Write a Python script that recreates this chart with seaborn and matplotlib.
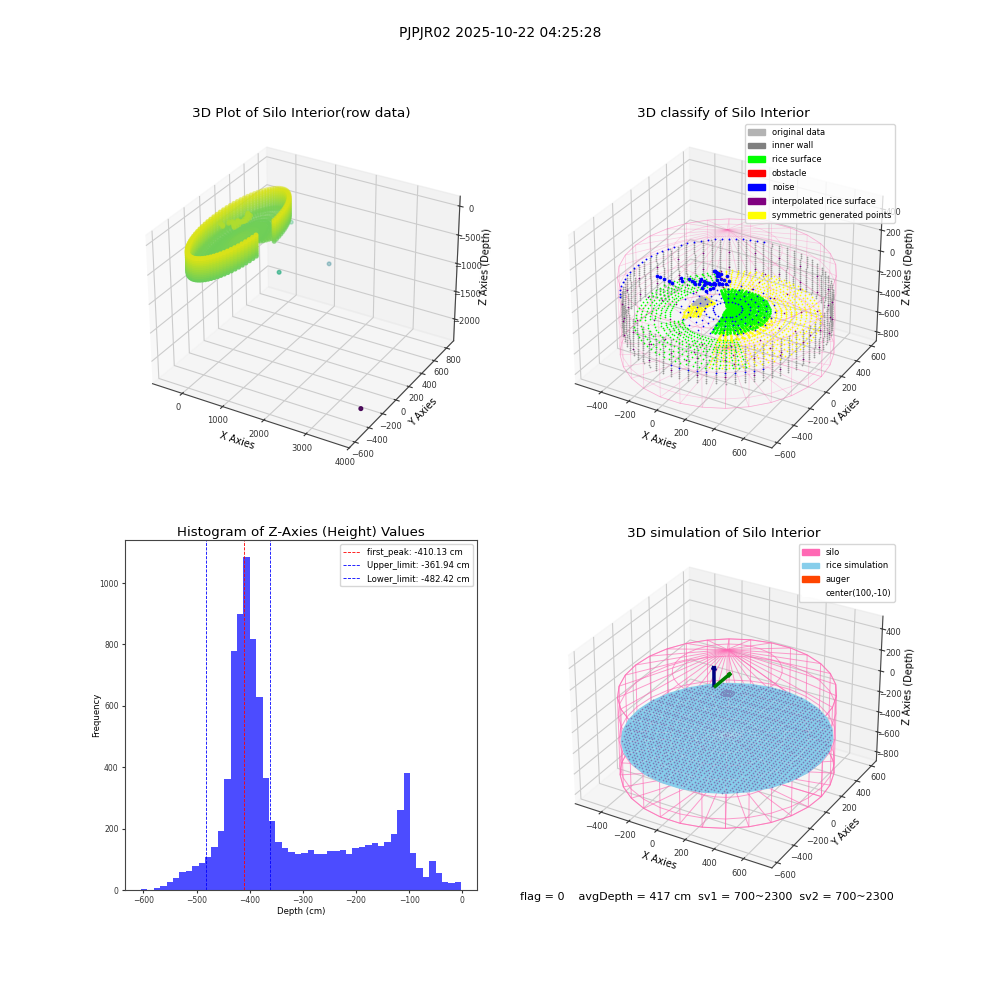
"""Silo interior report: raw cloud, classified points, depth histogram, simulation."""

import matplotlib
matplotlib.use("Agg")
import matplotlib.pyplot as plt
import matplotlib.patches as mpatches
import numpy as np
import seaborn as sns

plt.rcParams["grid.color"] = "#cccccc"
plt.rcParams["axes.edgecolor"] = "#444444"
plt.rcParams["xtick.color"] = "#333333"
plt.rcParams["ytick.color"] = "#333333"

# -----------------------------
# Values
# -----------------------------
SUPTITLE = "PJPJR02 2025-10-22 04:25:28"
STATUS_TEXT = "flag = 0    avgDepth = 417 cm  sv1 = 700~2300  sv2 = 700~2300"

# Histogram of depths
hist_edges = [-604.5, -592.5, -580.4, -568.4, -556.3, -544.3, -532.2, -520.2, -508.1, -496.1,
              -484.0, -472.0, -459.9, -447.9, -435.8, -423.8, -411.7, -399.7, -387.6, -375.6,
              -363.5, -351.5, -339.4, -327.4, -315.3, -303.3, -291.2, -279.2, -267.1, -255.1,
              -243.0, -231.0, -218.9, -206.9, -194.8, -182.8, -170.7, -158.7, -146.6, -134.6,
              -122.5, -110.5, -98.4, -86.4, -74.3, -62.3, -50.2, -38.2, -26.1, -14.1, -2.0]
hist_counts = [3, 0, 7, 13, 26, 39, 59, 62, 78, 88, 108, 140, 192, 362, 779, 900, 1086, 818, 629,
               365, 225, 157, 137, 124, 117, 121, 130, 117, 117, 127, 127, 130, 117, 137, 140,
               147, 153, 143, 157, 183, 261, 382, 121, 72, 42, 95, 55, 26, 23, 26]
first_peak = -410.13
upper_limit = -361.94
lower_limit = -482.42

# Silo geometry
silo_center = (100, -10)
raw_center = (193, 20)
silo_radius = 660
wire_angles = [0, 12, 24, 36, 48, 60, 72, 84, 96, 108, 120, 132, 144, 156, 168, 180, 192, 204, 216,
               228, 240, 252, 264, 276, 288, 300, 312, 324, 336, 348, 360]
wire_wall_z = [-740, -650, -400, -160, 10]
wire_roof_r = [660, 330, 0]
wire_roof_z = [10, 205, 400]
wire_floor_r = [660, 330, 0]

# Wall samples
wall_angles = [0, 5, 10, 15, 20, 25, 30, 35, 40, 45, 50, 55, 60, 65, 70, 75, 80, 85, 90, 95, 100,
               105, 110, 115, 120, 125, 130, 135, 140, 145, 150, 155, 160, 165, 170, 175, 180, 185,
               190, 195, 200, 205, 210, 215, 220, 225, 230, 235, 240, 245, 250, 255, 260, 265, 270,
               275, 280, 285, 290, 295, 300, 305, 310, 315, 320, 325, 330, 335, 340, 345, 350, 355]
wall_z = [-180, -200, -220, -240, -260, -280, -300, -320, -340, -360, -380, -400, -420, -440,
          -460, -480, -500, -520]
wall_radius = 640

# Raw cloud (first panel)
raw_angles = [14, 18, 22, 26, 30, 34, 38, 42, 46, 50, 54, 58, 62, 66, 70, 74, 78, 82, 86, 90,
              94, 98, 102, 106, 110, 114, 118, 122, 126, 130, 134, 138, 142, 146, 150, 154, 158,
              162, 166, 170, 174, 178, 182, 186, 190, 194, 198, 202, 206, 210, 214, 218, 222, 226,
              230, 234, 238, 242, 246, 250, 254, 258, 262, 266, 270, 274, 278, 282, 286, 290, 294,
              298, 302, 306, 310, 314, 318, 322, 326, 330, 334, 338, 342, 346, 350]
raw_wall_z = [-120, -150, -180, -210, -240, -270, -300, -330, -360, -390, -420, -450, -480]
raw_floor_r = [60, 110, 160, 210, 260, 310, 360, 410, 460, 510, 560]
raw_floor_z = [-420, -430, -440, -450, -455, -460, -465, -460, -450, -440, -430]
raw_out_x = [3800, 1140, 1386, 360]
raw_out_y = [-395, 25, 600, 643]
raw_out_z = [-2117, -800, -1200, -700]

# Classified patches, polar around the silo centre
green_back_angles = [130, 134, 138, 142, 146, 150, 154, 158, 162, 166, 170, 174, 178, 182, 186, 190,
                     194, 198, 202, 206, 210, 214]
green_back_r = [350, 380, 410, 440, 470, 500, 530, 560]
green_back_z = [-400, -405, -410, -415, -420, -425, -430, -435]
green_front_angles = [220, 224, 228, 232, 236, 240, 244, 248, 252, 256, 260, 264, 268, 272, 276,
                      280, 284, 288, 292, 296, 300, 304, 308, 312]
green_front_r = [280, 305, 330, 355, 380, 410, 450, 490, 530, 570]
green_front_z = [-420, -420, -425, -425, -430, -430, -435, -435, -440, -440]
yellow_back_angles = [30, 34, 38, 42, 46, 50, 54, 58, 62, 66, 70, 74, 78, 82, 86, 90, 94, 98, 102,
                      106, 110, 114, 118, 122, 126]
yellow_front_angles = [-70, -66, -62, -58, -54, -50, -46, -42, -38, -34, -30, -26, -22, -18, -14,
                       -10, -6, -2, 2, 6, 10, 14, 18, 22, 26, 30, 34, 38]
yellow_outer_r = [300, 330, 360, 390, 420, 450, 480, 510, 540, 570]
yellow_outer_z = [-400, -403, -406, -410, -413, -416, -420, -425, -430, -435]
yellow_inner_angles = [-70, -62, -54, -46, -38, -30, -22, -14, -6, 2, 10, 18, 26, 150, 156, 162, 168,
                       174, 180, 186, 192, 198, 204, 210]
yellow_inner_r = [170, 190, 210, 230, 250, 270]
yellow_inner_z = [-420, -420, -425, -425, -430, -430]
blob_angles = [-80, -75, -70, -65, -60, -55, -50, -45, -40, -35, -30, -25, -20, -15, -10, -5, 0, 5, 10,
               15, 20, 25, 30, 35, 40, 45, 50, 55, 60, 65, 70, 75, 80, 85, 90, 95, 100, 105, 110, 115,
               120, 125, 130]
blob_r = [20, 35, 50, 65, 80, 95, 110, 125, 140, 155, 170, 185, 200, 215, 230, 245, 260]
blob_z = [-350, -350, -350, -355, -355, -355, -360, -360, -360, -365, -365, -365, -370, -370, -370,
          -375, -375]
gray_r = [160, 180, 200, 220]
gray_angles = [168, 174, 180, 186, 192]
gray_left_r = [430, 460, 490, 520]
gray_left_angles = [165, 170, 175, 180, 185]

noise_x = [-147, -127, -107, -83, -53, -18, -39, -79, 1, 4, -14, -31, -32, -50, -81, -103, -132, -162,
           -145, -118, -109, -101, -56, -46, -37, -163, -276, -253, -291, -415, -362, -226, -181,
           -137, -117, -95, -68, -35, -60, -66, -92, -122, -150, -200, -320, -390]
noise_y = [236, 227, 218, 219, 166, 124, 214, 192, 175, 136, 118, 169, 108, 98, 89, 86, 95, 106, 54,
           90, 54, 18, 2, 27, 53, 44, 55, 35, -26, 7, -3, 71, 55,
           231, 222, 192, 145, 116, 103, 95, 88, 90, 80, 63, -10, 2]
noise_z = [-250, -250, -250, -250, -250, -250, -250, -250, -250, -250, -250, -250, -250, -250, -250,
           -250, -250, -250, -250, -250, -250, -250, -250, -250, -250, -250, -250, -250, -250, -250,
           -250, -250, -250, -250, -250, -250, -250, -250, -250, -250, -250, -250, -250, -250, -250,
           -250]
rim_angles = [100, 104, 108, 112, 116, 120, 124, 128, 132, 136, 140, 144, 148, 152, 156, 160, 164,
              168, 172, 176, 180, 184, 188, 192, 196, 200, 204, 208, 212, 216]
front_blue_angles = [270, 275, 280, 285, 290, 295, 300, 305, 310, 315, 320]
spray_angles = [-40, -24, -8, 8, 24, 40, 56, 72, 88, 104, 120, 136, 152, 168, 184, 200, 216, 232,
                248, 264, 280, 296, 312]
spray_r = [90, 140, 190, 240, 290]
purple_angles = [0, 15, 30, 45, 60, 75, 90, 105, 120, 135, 150, 165, 180, 195, 210, 225, 240, 255,
                 270, 285, 300, 315, 330, 345]
purple_z = [-300, -460]
purple_in_angles = [5, 35, 65, 95, 125, 155, 185, 215, 245, 275, 305, 335]
purple_in_r = [350, 450, 550]

# Simulated rice surface
rice_r = [650, 500, 350, 200, 0]
rice_z = [-420, -420, -418, -416, -416]
dot_x = [-550, -525, -500, -475, -450, -425, -400, -375, -350, -325, -300, -275, -250, -225, -200,
         -175, -150, -125, -100, -75, -50, -25, 0, 25, 50, 75, 100, 125, 150, 175, 200, 225, 250,
         275, 300, 325, 350, 375, 400, 425, 450, 475, 500, 525, 550, 575, 600, 625, 650, 675, 700,
         725, 750]
dot_y = [-650, -625, -600, -575, -550, -525, -500, -475, -450, -425, -400, -375, -350, -325, -300,
         -275, -250, -225, -200, -175, -150, -125, -100, -75, -50, -25, 0, 25, 50, 75, 100, 125,
         150, 175, 200, 225, 250, 275, 300, 325, 350, 375, 400, 425, 450, 475, 500, 525, 550, 575,
         600, 625]
dot_depth = -417
auger_r = [12, 26, 40]
auger_angles = wall_angles
auger_depth = -10

legend_classes = [("original data", "#b3b3b3"), ("inner wall", "#808080"), ("rice surface", "#00ff00"),
                  ("obstacle", "#ff0000"), ("noise", "#0000ff"),
                  ("interpolated rice surface", "#800080"), ("symmetric generated points", "#ffff00")]
legend_sim = [("silo", "#ff69b4"), ("rice simulation", "#87ceeb"), ("auger", "#ff4500"),
              ("center(100,-10)", "#ffffff")]


def polar_cloud(angles, radii, depths, center=silo_center):
    """Turn listed angles and radius/depth pairs into x, y, z around a centre."""
    a, idx = np.meshgrid(np.radians(angles), np.arange(len(radii)))
    r = np.asarray(radii, dtype=float)[idx]
    z = np.asarray(depths, dtype=float)[idx]
    return (center[0] + r * np.cos(a)).ravel(), (center[1] + r * np.sin(a)).ravel(), z.ravel()


def wall_cloud(angles, radius, depths, center=silo_center):
    """Points on a vertical wall for listed angles and depths."""
    return polar_cloud(angles, [radius] * len(depths), depths, center)


def draw_silo(ax, alpha, lw):
    """Wire silo: wall, roof cone and floor disc."""
    a = np.radians(wire_angles)
    for r_list, z_list in (
        ([silo_radius] * len(wire_wall_z), wire_wall_z),
        (wire_roof_r, wire_roof_z),
        (wire_floor_r, [wire_wall_z[0]] * len(wire_floor_r)),
    ):
        aa, idx = np.meshgrid(a, np.arange(len(r_list)))
        r = np.asarray(r_list, dtype=float)[idx]
        x = silo_center[0] + r * np.cos(aa)
        y = silo_center[1] + r * np.sin(aa)
        z = np.asarray(z_list, dtype=float)[idx]
        ax.plot_wireframe(x, y, z, color="#ff69b4", alpha=alpha, linewidth=lw, zorder=1)


def dots(ax, cloud, color, size, zorder):
    """Small flat markers without an edge."""
    x, y, z = cloud
    ax.scatter(x, y, z, color=color, s=size, linewidths=0, depthshade=False, zorder=zorder)


def style_3d(ax, title, xlim, ylim, zlim, xticks, yticks, zticks):
    """Shared limits, ticks and labels for the 3D panels."""
    ax.set_xlim(*xlim)
    ax.set_ylim(*ylim)
    ax.set_zlim(*zlim)
    ax.set_xticks(xticks)
    ax.set_yticks(yticks)
    ax.set_zticks(zticks)
    ax.tick_params(labelsize=6, pad=-3, length=2)
    ax.set_xlabel("X Axies", fontsize=7, labelpad=-8)
    ax.set_ylabel("Y Axies", fontsize=7, labelpad=-8)
    ax.set_zlabel("Z Axies (Depth)", fontsize=7, labelpad=-8)
    ax.set_title(title, fontsize=9.7, pad=0)


def patch_handles(items):
    return [mpatches.Patch(color=color, label=label) for label, color in items]


fig = plt.figure(figsize=(10, 10), dpi=100)
fig.suptitle(SUPTITLE, fontsize=10, y=0.974)

# -----------------------------
# Panel 1: raw data
# -----------------------------
ax1 = fig.add_subplot(2, 2, 1, projection="3d")
viridis = sns.color_palette("viridis", as_cmap=True)
wx, wy, wz = wall_cloud(raw_angles, silo_radius - 60, raw_wall_z, raw_center)
fx, fy, fz = polar_cloud(raw_angles, raw_floor_r, raw_floor_z, raw_center)
raw_x = np.concatenate([raw_out_x, fx, np.array(noise_x) + raw_center[0] - silo_center[0], wx])
raw_y = np.concatenate([raw_out_y, fy, np.array(noise_y) + raw_center[1] - silo_center[1], wy])
raw_z = np.concatenate([raw_out_z, fz, noise_z, wz])
ax1.scatter(raw_x, raw_y, raw_z, c=raw_z, cmap=viridis, vmin=-2117, vmax=0, s=7)
style_3d(ax1, "3D Plot of Silo Interior(row data)", (-750, 4000), (-680, 920), (-2400, 170),
         [0, 1000, 2000, 3000, 4000], [-600, -400, -200, 0, 200, 400, 600, 800],
         [-2000, -1500, -1000, -500, 0])

# -----------------------------
# Panel 2: classified points
# -----------------------------
ax2 = fig.add_subplot(2, 2, 2, projection="3d")
ax2.computed_zorder = False
draw_silo(ax2, 0.3, 0.5)
dots(ax2, wall_cloud(wall_angles, wall_radius, wall_z), "#9a9a9a", 1.6, 2)
dots(ax2, polar_cloud(gray_angles, gray_r, [-360] * len(gray_r)), "#b3b3b3", 6, 5)
dots(ax2, polar_cloud(gray_left_angles, gray_left_r, [-400] * len(gray_left_r)), "#b3b3b3", 4, 3)
dots(ax2, polar_cloud(green_back_angles, green_back_r, green_back_z), "#00ff00", 1.5, 3)
dots(ax2, polar_cloud(green_front_angles, green_front_r, green_front_z), "#00ff00", 1.5, 3)
dots(ax2, polar_cloud(yellow_back_angles, yellow_outer_r, yellow_outer_z), "#ffff00", 1.5, 3)
dots(ax2, polar_cloud(yellow_front_angles, yellow_outer_r, yellow_outer_z), "#ffff00", 1.5, 3)
dots(ax2, polar_cloud(yellow_inner_angles, yellow_inner_r, yellow_inner_z), "#ffff00", 3.5, 3)
dots(ax2, polar_cloud(blob_angles, blob_r, blob_z), "#00ff00", 3.5, 4)
dots(ax2, polar_cloud(spray_angles, spray_r, [-360] * len(spray_r)), "#0000ff", 1.5, 6)
dots(ax2, (noise_x, noise_y, noise_z), "#0000ff", 7, 6)
dots(ax2, wall_cloud(rim_angles, wall_radius + 10, [-180]), "#0000ff", 1.8, 6)
dots(ax2, wall_cloud(front_blue_angles, wall_radius, [-420]), "#0000ff", 1.5, 6)
dots(ax2, wall_cloud(purple_angles, wall_radius, purple_z), "#800080", 1.4, 6)
dots(ax2, polar_cloud(purple_in_angles, purple_in_r, [-420] * len(purple_in_r)), "#800080", 1.4, 6)
style_3d(ax2, "3D classify of Silo Interior", (-590, 790), (-660, 670), (-890, 520),
         [-400, -200, 0, 200, 400, 600], [-600, -400, -200, 0, 200, 400, 600],
         [-800, -600, -400, -200, 0, 200, 400])
ax2.legend(handles=patch_handles(legend_classes), loc="upper right", fontsize=6.05, labelspacing=0.58)

# -----------------------------
# Panel 3: histogram
# -----------------------------
ax3 = fig.add_subplot(2, 2, 3)
bin_mids = (np.array(hist_edges[:-1]) + np.array(hist_edges[1:])) / 2
sns.histplot(x=bin_mids, weights=hist_counts, bins=hist_edges, color="blue", alpha=0.7,
             linewidth=0, ax=ax3)
ax3.axvline(first_peak, color="red", linestyle="--", linewidth=0.6,
            label=f"first_peak: {first_peak} cm")
ax3.axvline(upper_limit, color="blue", linestyle="--", linewidth=0.6,
            label=f"Upper_limit: {upper_limit} cm")
ax3.axvline(lower_limit, color="blue", linestyle="--", linewidth=0.6,
            label=f"Lower_limit: {lower_limit} cm")
ax3.set_title("Histogram of Z-Axies (Height) Values", fontsize=9.65, pad=3)
ax3.set_xlabel("Depth (cm)", fontsize=6.1, labelpad=1)
ax3.set_ylabel("Frequency", fontsize=6.1, labelpad=-1)
ax3.tick_params(labelsize=5.5, length=2, pad=2.5)
ax3.legend(loc="upper right", fontsize=6.1)

# -----------------------------
# Panel 4: simulation
# -----------------------------
ax4 = fig.add_subplot(2, 2, 4, projection="3d")
ax4.computed_zorder = False
draw_silo(ax4, 0.65, 0.7)
a, idx = np.meshgrid(np.radians(wire_angles), np.arange(len(rice_r)))
r = np.asarray(rice_r, dtype=float)[idx]
ax4.plot_surface(silo_center[0] + r * np.cos(a), silo_center[1] + r * np.sin(a),
                 np.asarray(rice_z, dtype=float)[idx], color="#87ceeb", shade=False, zorder=3)
gx, gy = np.meshgrid(dot_x, dot_y)
inside = (gx - silo_center[0]) ** 2 + (gy - silo_center[1]) ** 2 < 640 ** 2
ax4.scatter(gx[inside], gy[inside], np.full(inside.sum(), dot_depth), color="#7a78b5", s=1.5,
            linewidths=0, depthshade=False, zorder=4)
dots(ax4, polar_cloud(auger_angles, auger_r, [auger_depth] * len(auger_r)), "#7a8ac0", 0.6, 5)
ax4.quiver(0, 0, 0, 0, 0, 200, color="navy", linewidth=2.5, arrow_length_ratio=0.2, zorder=5)
ax4.quiver(0, 0, 0, 0, 200, 0, color="green", linewidth=2.5, arrow_length_ratio=0.2, zorder=5)
style_3d(ax4, "3D simulation of Silo Interior", (-590, 790), (-660, 670), (-890, 520),
         [-400, -200, 0, 200, 400, 600], [-600, -400, -200, 0, 200, 400, 600],
         [-800, -600, -400, -200, 0, 200, 400])
ax4.legend(handles=patch_handles(legend_sim), loc="upper right", fontsize=6.05, labelspacing=0.58)

fig.text(0.707, 0.103, STATUS_TEXT, ha="center", va="center", fontsize=8)

fig.savefig("out.png", dpi=100)
